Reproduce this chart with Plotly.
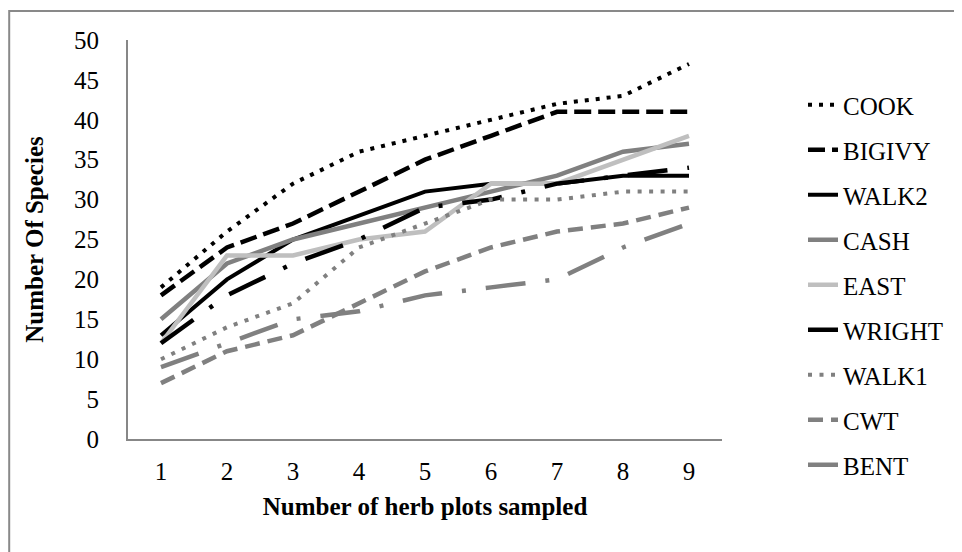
import plotly.graph_objects as go

plots = [1, 2, 3, 4, 5, 6, 7, 8, 9]
y_ticks = [0, 5, 10, 15, 20, 25, 30, 35, 40, 45, 50]

COOK = [19, 26, 32, 36, 38, 40, 42, 43, 47]
BIGIVY = [18, 24, 27, 31, 35, 38, 41, 41, 41]
WALK2 = [13, 20, 25, 28, 31, 32, 32, 33, 33]
CASH = [15, 22, 25, 27, 29, 31, 33, 36, 37]
EAST = [12, 23, 23, 25, 26, 32, 32, 35, 38]
WRIGHT = [12, 18, 22, 25, 29, 30, 32, 33, 34]
WALK1 = [10, 14, 17, 24, 27, 30, 30, 31, 31]
CWT = [7, 11, 13, 17, 21, 24, 26, 27, 29]
BENT = [9, 12, 15, 16, 18, 19, 20, 24, 27]

series = [
    ("COOK", COOK, "#000000", "4px,7px", 4),
    ("BIGIVY", BIGIVY, "#000000", "17px,7px", 4.5),
    ("WALK2", WALK2, "#000000", "solid", 4),
    ("CASH", CASH, "#808080", "solid", 4.5),
    ("EAST", EAST, "#bfbfbf", "solid", 4.5),
    ("WRIGHT", WRIGHT, "#000000", "40px,20px,4px,20px", 4.5),
    ("WALK1", WALK1, "#808080", "4px,7.5px", 4),
    ("CWT", CWT, "#808080", "15px,8px", 4.5),
    ("BENT", BENT, "#808080", "40px,20px,4px,20px", 4.5),
]

FONT = "Liberation Serif, Times New Roman, serif"

fig = go.Figure()
for name, vals, color, dash, w in series:
    fig.add_trace(go.Scatter(
        x=plots, y=vals, name=name, mode="lines", legendgroup=name,
        line=dict(color=color, dash=dash, width=w),
    ))

OFF = 8  # page body margin
W, H = 962, 552
pw, ph = 594, 399
L = 128 - OFF
T = 40 - OFF
R = W - L - pw
B = H - T - ph

def px_x(p):
    return (p - OFF - L) / pw

def px_y(p):
    return (H - B - (p - OFF)) / ph

fig.update_layout(
    width=W, height=H,
    margin=dict(l=L, r=R, t=T, b=B, pad=0, autoexpand=False),
    paper_bgcolor="white", plot_bgcolor="white",
    font=dict(family=FONT, size=25, color="black"),
    showlegend=True,
    legend=dict(
        x=px_x(803), xanchor="left", y=px_y(82), yanchor="top",
        font=dict(family=FONT, size=25, color="black"),
        tracegroupgap=9.5, bgcolor="rgba(0,0,0,0)", maxheight=540,
    ),
    xaxis=dict(
        range=[0.5, 9.5], tickvals=plots, ticktext=[str(v) for v in plots],
        showgrid=False, zeroline=False, showline=True, linecolor="#878787",
        linewidth=2, ticks="", ticklabelstandoff=9, automargin=False,
        title=dict(text="<b>Number of herb plots sampled</b>", standoff=13,
                   font=dict(family=FONT, size=25)),
    ),
    yaxis=dict(
        range=[0, 50], tickvals=y_ticks, showgrid=False, zeroline=False,
        showline=True, linecolor="#878787", linewidth=2, ticks="",
        ticklabelstandoff=22, automargin=False,
        title=dict(text="<b>Number Of Species</b>", standoff=23,
                   font=dict(family=FONT, size=25)),
    ),
    shapes=[dict(
        type="rect", xref="paper", yref="paper",
        x0=px_x(9.2), x1=px_x(975), y0=px_y(570), y1=px_y(11),
        line=dict(color="#898989", width=2), fillcolor="rgba(0,0,0,0)",
        layer="below",
    )],
)

fig.write_html("out.html")
